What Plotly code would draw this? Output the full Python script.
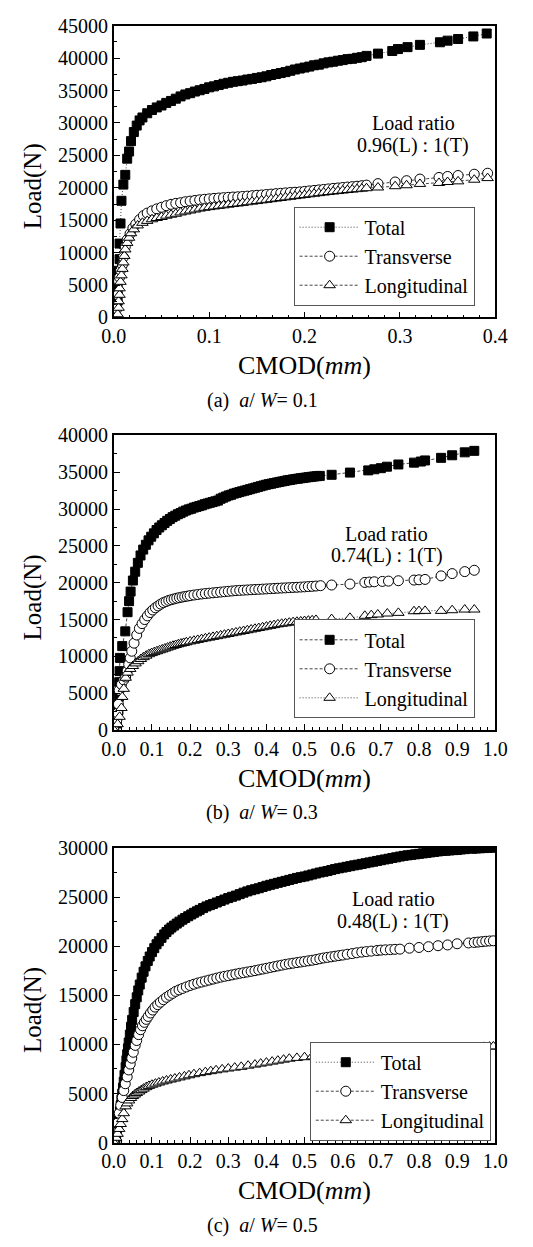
import plotly.graph_objects as go

# ---------------- data ----------------
# Panel (a)  a/W = 0.1
A_TOTAL_X = [0.000, 0.002, 0.004, 0.004, 0.005, 0.006, 0.006, 0.007, 0.008, 0.010, 0.012, 0.014, 0.016, 0.018,
             0.021, 0.024, 0.027, 0.030, 0.035, 0.040, 0.045, 0.050, 0.055, 0.060, 0.065, 0.070, 0.075, 0.080,
             0.085, 0.090, 0.095, 0.100, 0.105, 0.110, 0.115, 0.120, 0.125, 0.130, 0.135, 0.140, 0.145, 0.150,
             0.155, 0.160, 0.165, 0.170, 0.175, 0.180, 0.185, 0.190, 0.195, 0.200, 0.205, 0.210, 0.215, 0.220,
             0.225, 0.230, 0.235, 0.240, 0.245, 0.250, 0.255, 0.260, 0.265, 0.277, 0.292, 0.298, 0.308, 0.321,
             0.342, 0.350, 0.361, 0.377, 0.391]
A_TOTAL_Y = [0, 1500, 2600, 4400, 7200, 9000, 11400, 14500, 18000, 20500, 22000, 24500, 25600, 27200,
             28600, 29600, 30400, 30850, 31500, 32000, 32400, 32700, 33100, 33400, 33750, 34100, 34400, 34600,
             34850, 35050, 35250, 35500, 35650, 35850, 36050, 36200, 36350, 36450, 36550, 36700, 36800, 36950,
             37050, 37200, 37400, 37550, 37700, 37850, 38050, 38250, 38400, 38550, 38700, 38900, 39000, 39200,
             39350, 39450, 39600, 39700, 39850, 39900, 40050, 40150, 40350, 40700, 41100, 41400, 41700, 42050,
             42450, 42700, 42950, 43350, 43800]
A_TRANS_X = [0.000, 0.003, 0.004, 0.005, 0.006, 0.007, 0.009, 0.010, 0.012, 0.014, 0.017, 0.020, 0.023, 0.027,
             0.031, 0.035, 0.040, 0.045, 0.050, 0.055, 0.060, 0.065, 0.070, 0.075, 0.080, 0.085, 0.090, 0.095,
             0.100, 0.105, 0.110, 0.115, 0.120, 0.125, 0.130, 0.135, 0.140, 0.145, 0.150, 0.155, 0.160, 0.165,
             0.170, 0.175, 0.180, 0.185, 0.190, 0.195, 0.200, 0.205, 0.210, 0.215, 0.220, 0.225, 0.230, 0.235,
             0.240, 0.245, 0.250, 0.255, 0.260, 0.265, 0.277, 0.295, 0.307, 0.321, 0.341, 0.350, 0.361, 0.378,
             0.392]
A_TRANS_Y = [0, 1300, 3500, 5600, 6200, 7300, 8100, 9300, 10900, 12000, 12900, 13800, 14400, 15100,
             15700, 16100, 16450, 16750, 17000, 17250, 17450, 17600, 17700, 17850, 17950, 18050, 18150, 18230,
             18300, 18370, 18430, 18480, 18530, 18580, 18620, 18670, 18720, 18790, 18850, 18900, 18970, 19030,
             19100, 19160, 19220, 19280, 19320, 19370, 19450, 19530, 19600, 19680, 19750, 19830, 19910, 19980,
             20050, 20120, 20180, 20250, 20330, 20420, 20650, 20900, 21100, 21350, 21600, 21750, 21900, 22100,
             22250]
A_LONG_X = [0.000, 0.004, 0.005, 0.005, 0.006, 0.006, 0.007, 0.008, 0.009, 0.010, 0.011, 0.012, 0.014, 0.016,
            0.018, 0.021, 0.025, 0.030, 0.035, 0.040, 0.045, 0.050, 0.055, 0.060, 0.065, 0.070, 0.075, 0.080,
            0.085, 0.090, 0.095, 0.100, 0.105, 0.110, 0.115, 0.120, 0.125, 0.130, 0.135, 0.140, 0.145, 0.150,
            0.155, 0.160, 0.165, 0.170, 0.175, 0.180, 0.185, 0.190, 0.195, 0.200, 0.205, 0.210, 0.215, 0.220,
            0.225, 0.230, 0.235, 0.240, 0.245, 0.250, 0.255, 0.260, 0.265, 0.277, 0.295, 0.307, 0.321, 0.341,
            0.350, 0.361, 0.378, 0.392]
A_LONG_Y = [0, 500, 1500, 2500, 3500, 4500, 5500, 6500, 7500, 8500, 9500, 10500, 11500, 12300,
            13000, 13600, 14200, 14600, 14900, 15150, 15350, 15500, 15700, 15850, 16000, 16200, 16350, 16500,
            16650, 16800, 16920, 17020, 17120, 17220, 17300, 17400, 17500, 17580, 17680, 17780, 17870, 17960,
            18060, 18150, 18250, 18340, 18430, 18530, 18620, 18720, 18810, 18900, 19000, 19090, 19180, 19270,
            19350, 19430, 19500, 19580, 19660, 19730, 19800, 19870, 19940, 20050, 20250, 20400, 20600, 20750,
            20900, 21000, 21250, 21500]

# Panel (b)  a/W = 0.3
B_TOTAL_X = [0.000, 0.008, 0.012, 0.013, 0.014, 0.015, 0.016, 0.022, 0.030, 0.036, 0.040, 0.044, 0.050, 0.056,
             0.063, 0.070, 0.077, 0.084, 0.091, 0.098, 0.105, 0.112, 0.119, 0.126, 0.133, 0.140, 0.147, 0.154,
             0.161, 0.168, 0.175, 0.182, 0.189, 0.196, 0.203, 0.210, 0.217, 0.224, 0.231, 0.238, 0.245, 0.252,
             0.259, 0.266, 0.273, 0.280, 0.287, 0.294, 0.301, 0.308, 0.315, 0.322, 0.329, 0.336, 0.343, 0.350,
             0.357, 0.364, 0.371, 0.378, 0.385, 0.392, 0.399, 0.406, 0.413, 0.420, 0.427, 0.434, 0.441, 0.448,
             0.455, 0.462, 0.469, 0.476, 0.483, 0.490, 0.497, 0.504, 0.511, 0.518, 0.525, 0.532, 0.540, 0.571,
             0.619, 0.667, 0.683, 0.700, 0.716, 0.746, 0.787, 0.805, 0.816, 0.858, 0.887, 0.920, 0.945]
B_TOTAL_Y = [0, 900, 2700, 4500, 6500, 8000, 9800, 11400, 13400, 16000, 17500, 18800, 20300, 21500,
             22700, 23700, 24500, 25150, 25750, 26250, 26700, 27150, 27500, 27800, 28100, 28400, 28650, 28900,
             29100, 29300, 29450, 29650, 29800, 29950, 30050, 30200, 30300, 30400, 30500, 30650, 30750, 30850,
             30950, 31050, 31150, 31400, 31550, 31700, 31850, 31950, 32100, 32200, 32300, 32400, 32500, 32600,
             32700, 32800, 32900, 33000, 33100, 33200, 33300, 33380, 33450, 33530, 33600, 33680, 33750, 33820,
             33900, 33950, 34020, 34080, 34130, 34180, 34230, 34280, 34330, 34380, 34420, 34460, 34500, 34650,
             34950, 35250, 35400, 35550, 35750, 36050, 36300, 36450, 36600, 36950, 37300, 37700, 37900]
B_TRANS_X = [0.000, 0.008, 0.010, 0.012, 0.014, 0.020, 0.026, 0.031, 0.035, 0.039, 0.043, 0.047, 0.053, 0.060,
             0.067, 0.074, 0.081, 0.088, 0.095, 0.102, 0.109, 0.116, 0.123, 0.130, 0.137, 0.144, 0.151, 0.158,
             0.165, 0.172, 0.179, 0.186, 0.193, 0.200, 0.210, 0.220, 0.230, 0.240, 0.250, 0.260, 0.270, 0.280,
             0.290, 0.300, 0.310, 0.320, 0.330, 0.340, 0.350, 0.360, 0.370, 0.380, 0.390, 0.400, 0.410, 0.420,
             0.430, 0.440, 0.450, 0.460, 0.470, 0.480, 0.490, 0.500, 0.510, 0.520, 0.530, 0.542, 0.571, 0.619,
             0.658, 0.670, 0.683, 0.704, 0.720, 0.746, 0.787, 0.800, 0.816, 0.858, 0.887, 0.920, 0.945]
B_TRANS_Y = [0, 1400, 2300, 3500, 5400, 6200, 6800, 7200, 8000, 8900, 9800, 10700, 11800, 12900,
             13800, 14450, 15000, 15500, 15950, 16300, 16600, 16850, 17100, 17300, 17450, 17600, 17700, 17800,
             17900, 17980, 18050, 18120, 18180, 18250, 18330, 18400, 18470, 18530, 18580, 18630, 18680, 18730,
             18780, 18830, 18880, 18930, 18960, 18990, 19020, 19050, 19080, 19100, 19130, 19160, 19190, 19220,
             19250, 19280, 19300, 19330, 19360, 19380, 19410, 19440, 19480, 19510, 19550, 19600, 19690, 19820,
             20040, 20090, 20130, 20180, 20220, 20270, 20360, 20400, 20450, 20930, 21240, 21510, 21690]
B_LONG_X = [0.000, 0.010, 0.015, 0.020, 0.022, 0.026, 0.031, 0.036, 0.043, 0.050, 0.057, 0.064, 0.071, 0.078,
            0.085, 0.092, 0.099, 0.106, 0.113, 0.120, 0.127, 0.134, 0.141, 0.148, 0.155, 0.162, 0.169, 0.176,
            0.183, 0.190, 0.200, 0.210, 0.220, 0.230, 0.240, 0.250, 0.260, 0.270, 0.280, 0.290, 0.300, 0.310,
            0.320, 0.330, 0.340, 0.350, 0.360, 0.370, 0.380, 0.390, 0.400, 0.410, 0.420, 0.430, 0.440, 0.450,
            0.460, 0.470, 0.480, 0.490, 0.500, 0.510, 0.520, 0.530, 0.571, 0.619, 0.658, 0.675, 0.692, 0.717,
            0.746, 0.787, 0.800, 0.816, 0.858, 0.887, 0.920, 0.945]
B_LONG_Y = [0, 800, 1800, 3000, 4500, 5600, 7100, 7800, 8300, 8700, 9050, 9350, 9650, 9900,
            10100, 10300, 10450, 10580, 10700, 10830, 10950, 11070, 11200, 11320, 11440, 11550, 11650, 11740,
            11830, 11920, 12030, 12130, 12240, 12350, 12450, 12550, 12650, 12750, 12850, 12950, 13050, 13150,
            13250, 13350, 13450, 13550, 13650, 13750, 13850, 13950, 14050, 14150, 14250, 14350, 14430, 14500,
            14580, 14650, 14700, 14750, 14800, 14850, 14900, 14950, 15070, 15240, 15510, 15600, 15690, 15820,
            15910, 16130, 16150, 16180, 16180, 16270, 16360, 16360]

# Panel (c)  a/W = 0.5
C_TOTAL_X = [0.000, 0.004, 0.006, 0.008, 0.010, 0.012, 0.014, 0.016, 0.018, 0.020, 0.022, 0.024, 0.026, 0.028,
             0.031, 0.033, 0.035, 0.037, 0.039, 0.042, 0.045, 0.048, 0.052, 0.056, 0.060, 0.064, 0.068, 0.073,
             0.078, 0.083, 0.089, 0.094, 0.100, 0.106, 0.112, 0.118, 0.125, 0.132, 0.138, 0.145, 0.151, 0.158,
             0.165, 0.172, 0.180, 0.187, 0.195, 0.203, 0.210, 0.218, 0.225, 0.234, 0.243, 0.252, 0.260, 0.270,
             0.280, 0.290, 0.300, 0.310, 0.320, 0.330, 0.340, 0.350, 0.360, 0.370, 0.380, 0.390, 0.400, 0.410,
             0.420, 0.430, 0.440, 0.450, 0.460, 0.470, 0.480, 0.490, 0.500, 0.510, 0.520, 0.530, 0.540, 0.550,
             0.560, 0.570, 0.580, 0.590, 0.600, 0.610, 0.620, 0.630, 0.640, 0.650, 0.660, 0.670, 0.680, 0.690,
             0.700, 0.710, 0.720, 0.730, 0.740, 0.750, 0.760, 0.770, 0.780, 0.790, 0.800, 0.810, 0.820, 0.830,
             0.840, 0.850, 0.860, 0.870, 0.880, 0.890, 0.900, 0.910, 0.920, 0.940, 0.950, 0.960, 0.970, 0.980,
             0.990, 1.000]
C_TOTAL_Y = [0, 300, 700, 1200, 1700, 2200, 2700, 3200, 3800, 4400, 5000, 5600, 6200, 6900,
             7700, 8400, 9000, 9600, 10200, 11000, 11800, 12500, 13300, 14100, 14800, 15500, 16100, 16800,
             17400, 17950, 18500, 18950, 19400, 19800, 20200, 20500, 20850, 21200, 21450, 21700, 21900, 22100,
             22300, 22500, 22700, 22870, 23050, 23230, 23400, 23550, 23700, 23880, 24050, 24180, 24300, 24450,
             24600, 24750, 24900, 25030, 25150, 25300, 25450, 25580, 25700, 25800, 25900, 26030, 26150, 26250,
             26350, 26450, 26550, 26650, 26750, 26850, 26950, 27030, 27100, 27200, 27300, 27400, 27500, 27580,
             27650, 27750, 27850, 27930, 28000, 28080, 28150, 28230, 28300, 28380, 28450, 28530, 28600, 28680,
             28750, 28830, 28900, 28980, 29050, 29130, 29200, 29250, 29300, 29350, 29400, 29450, 29500, 29550,
             29600, 29650, 29700, 29720, 29750, 29780, 29800, 29850, 29880, 29920, 29950, 29970, 29990, 30010,
             30030, 30050]
C_TRANS_X = [0.000, 0.006, 0.010, 0.014, 0.018, 0.022, 0.026, 0.030, 0.035, 0.039, 0.043, 0.047, 0.051, 0.056,
             0.060, 0.065, 0.070, 0.075, 0.080, 0.085, 0.090, 0.096, 0.102, 0.108, 0.115, 0.122, 0.130, 0.138,
             0.146, 0.154, 0.162, 0.171, 0.180, 0.190, 0.200, 0.210, 0.220, 0.230, 0.240, 0.250, 0.260, 0.270,
             0.280, 0.290, 0.300, 0.310, 0.320, 0.330, 0.340, 0.350, 0.360, 0.370, 0.380, 0.390, 0.400, 0.410,
             0.420, 0.430, 0.440, 0.450, 0.460, 0.470, 0.480, 0.490, 0.500, 0.510, 0.520, 0.530, 0.540, 0.550,
             0.560, 0.570, 0.580, 0.590, 0.600, 0.612, 0.625, 0.637, 0.650, 0.662, 0.675, 0.690, 0.700, 0.712,
             0.725, 0.737, 0.750, 0.775, 0.800, 0.825, 0.850, 0.875, 0.900, 0.930, 0.945, 0.955, 0.965, 0.975,
             0.985, 0.995]
C_TRANS_Y = [0, 1000, 2000, 3000, 3800, 4600, 5300, 6000, 6700, 7400, 8000, 8600, 9200, 9900,
             10400, 11000, 11500, 11900, 12250, 12550, 12850, 13200, 13500, 13800, 14050, 14300, 14550, 14800,
             15000, 15200, 15400, 15550, 15700, 15850, 16000, 16130, 16250, 16350, 16450, 16550, 16650, 16750,
             16850, 16930, 17000, 17080, 17160, 17240, 17300, 17370, 17440, 17510, 17590, 17670, 17750, 17830,
             17910, 17990, 18070, 18150, 18210, 18270, 18330, 18390, 18450, 18510, 18570, 18640, 18720, 18800,
             18860, 18920, 18980, 19040, 19100, 19180, 19250, 19330, 19400, 19450, 19500, 19560, 19600, 19630,
             19650, 19680, 19700, 19800, 19870, 19950, 20050, 20130, 20250, 20330, 20380, 20420, 20460, 20500,
             20530, 20550]
C_LONG_X = [0.000, 0.006, 0.010, 0.014, 0.018, 0.022, 0.026, 0.031, 0.035, 0.040, 0.045, 0.050, 0.055, 0.060,
            0.066, 0.072, 0.078, 0.085, 0.092, 0.100, 0.109, 0.118, 0.128, 0.138, 0.149, 0.160, 0.172, 0.185,
            0.197, 0.210, 0.225, 0.240, 0.254, 0.268, 0.284, 0.300, 0.317, 0.334, 0.352, 0.370, 0.385, 0.400,
            0.415, 0.430, 0.445, 0.460, 0.480, 0.500, 0.520, 0.540, 0.560, 0.580, 0.600, 0.620, 0.640, 0.660,
            0.680, 0.700, 0.725, 0.750, 0.775, 0.800, 0.825, 0.850, 0.880, 0.910, 0.940, 0.955, 0.970, 0.985,
            0.995]
C_LONG_Y = [0, 500, 900, 1400, 1900, 2400, 3000, 3700, 4000, 4300, 4550, 4750, 4900, 5050,
            5200, 5350, 5500, 5650, 5780, 5900, 6010, 6120, 6230, 6330, 6430, 6530, 6640, 6750,
            6860, 6970, 7080, 7180, 7280, 7370, 7460, 7550, 7640, 7720, 7840, 7950, 8050, 8150,
            8250, 8350, 8450, 8550, 8630, 8700, 8780, 8850, 8930, 9000, 9040, 9080, 9120, 9150,
            9190, 9220, 9250, 9280, 9320, 9350, 9380, 9400, 9450, 9550, 9650, 9700, 9750, 9780,
            9800]

SERIES_NAMES = ["Total", "Transverse", "Longitudinal"]
X_RANGES = [0.4, 1.0, 1.0]
Y_RANGES = [45000, 40000, 30000]
RATIO_TEXT = ["0.96(L) : 1(T)", "0.74(L) : 1(T)", "0.48(L) : 1(T)"]
CAPTIONS = ["(a)", "(b)", "(c)"]
AW_VALUES = ["0.1", "0.3", "0.5"]

# ---------------- layout helpers ----------------
W, H = 533, 1247
FONT = "Liberation Serif, Times New Roman, serif"


def fx(p):
    return p / W


def fy(p):
    return 1 - p / H


PANEL_TB = [(15, 312), (432, 732), (852, 1152)]
PLOT_L, PLOT_R = 106, 507
LEGEND_POS = [(295, 300), (295, 720), (312, 1150)]   # left, bottom (pixels)
RATIO_POS = [(421, 114, 137), (393, 532, 554), (400, 904, 927)]
DOT, DASH = "1px,2px", "3px,2px"
DASHES = [(DOT, DASH, DASH), (DASH, DASH, DOT), (DOT, DASH, DASH)]
MINOR_X = [0.1 / 6, 0.02, 0.02]

data = [
    [(A_TOTAL_X, A_TOTAL_Y), (A_TRANS_X, A_TRANS_Y), (A_LONG_X, A_LONG_Y)],
    [(B_TOTAL_X, B_TOTAL_Y), (B_TRANS_X, B_TRANS_Y), (B_LONG_X, B_LONG_Y)],
    [(C_TOTAL_X, C_TOTAL_Y), (C_TRANS_X, C_TRANS_Y), (C_LONG_X, C_LONG_Y)],
]

markers = [
    dict(symbol="square", size=9, color="black", line=dict(color="black", width=1)),
    dict(symbol="circle", size=10, color="white", line=dict(color="black", width=1)),
    dict(symbol="triangle-up", size=10, color="white", line=dict(color="black", width=1)),
]

fig = go.Figure()
layout = dict(
    width=W, height=H,
    margin=dict(l=0, r=0, t=0, b=0),
    paper_bgcolor="white", plot_bgcolor="white",
    font=dict(family=FONT, color="black"),
    showlegend=True,
)
annotations = []

for i in range(3):
    k = "" if i == 0 else str(i + 1)
    xa, ya = "x" + k, "y" + k
    lg = "legend" + k
    top, bot = PANEL_TB[i]
    for j in range(3):
        xs, ys = data[i][j]
        fig.add_trace(go.Scatter(
            x=xs, y=ys, name=SERIES_NAMES[j], mode="lines+markers",
            xaxis=xa, yaxis=ya, legend=lg,
            line=dict(color="#444", width=1, dash=DASHES[i][j]),
            marker=markers[j],
        ))
    axis_common = dict(
        showline=True, linecolor="black", linewidth=1.5, mirror=True,
        ticks="inside", ticklen=6, tickwidth=1.2, tickcolor="black",
        showgrid=False, zeroline=False,
        tickfont=dict(family=FONT, size=20, color="black"),
    )
    layout["xaxis" + k] = dict(
        axis_common, domain=[fx(PLOT_L), fx(PLOT_R)], anchor=ya,
        range=[0, X_RANGES[i]], tick0=0, dtick=0.1, tickformat=".1f",
        minor=dict(ticks="inside", ticklen=3, tickwidth=1, tickcolor="black", dtick=MINOR_X[i], showgrid=False),
    )
    layout["yaxis" + k] = dict(
        axis_common, domain=[fy(bot), fy(top)], anchor=xa,
        range=[0, Y_RANGES[i]], tick0=0, dtick=5000, tickformat="d",
        minor=dict(ticks="inside", ticklen=3, tickwidth=1, tickcolor="black", dtick=2500, showgrid=False),
    )
    lx, ly = LEGEND_POS[i]
    layout[lg] = dict(
        x=fx(lx), y=fy(ly), xanchor="left", yanchor="bottom",
        bordercolor="#555", borderwidth=1, bgcolor="white",
        font=dict(family=FONT, size=20, color="black"),
        itemwidth=60, tracegroupgap=0,
    )
    rx, ry1, ry2 = RATIO_POS[i]
    annotations.append(dict(text="Load ratio", x=fx(rx), y=fy(ry1), xref="paper", yref="paper",
                            showarrow=False, xanchor="center", yanchor="middle",
                            font=dict(family=FONT, size=20, color="black")))
    annotations.append(dict(text=RATIO_TEXT[i], x=fx(rx), y=fy(ry2), xref="paper", yref="paper",
                            showarrow=False, xanchor="center", yanchor="middle",
                            font=dict(family=FONT, size=20, color="black")))
    annotations.append(dict(text="CMOD(<i>mm</i>)", x=fx((PLOT_L + PLOT_R) / 2), y=fy(bot + 49),
                            xref="paper", yref="paper", showarrow=False,
                            xanchor="center", yanchor="middle",
                            font=dict(family=FONT, size=26, color="black")))
    annotations.append(dict(text="Load(N)", x=fx(21), y=fy((top + bot) / 2 + 15),
                            xref="paper", yref="paper", showarrow=False, textangle=-90,
                            xanchor="center", yanchor="middle",
                            font=dict(family=FONT, size=25, color="black")))
    annotations.append(dict(text=CAPTIONS[i] + "\u00a0\u00a0<i>a</i>/\u00a0<i>W</i>=\u00a0" + AW_VALUES[i],
                            x=fx(262), y=fy(bot + 84), xref="paper", yref="paper", showarrow=False,
                            xanchor="center", yanchor="middle",
                            font=dict(family=FONT, size=20, color="black")))

layout["annotations"] = annotations
fig.update_layout(**layout)
fig.write_html("out.html")
